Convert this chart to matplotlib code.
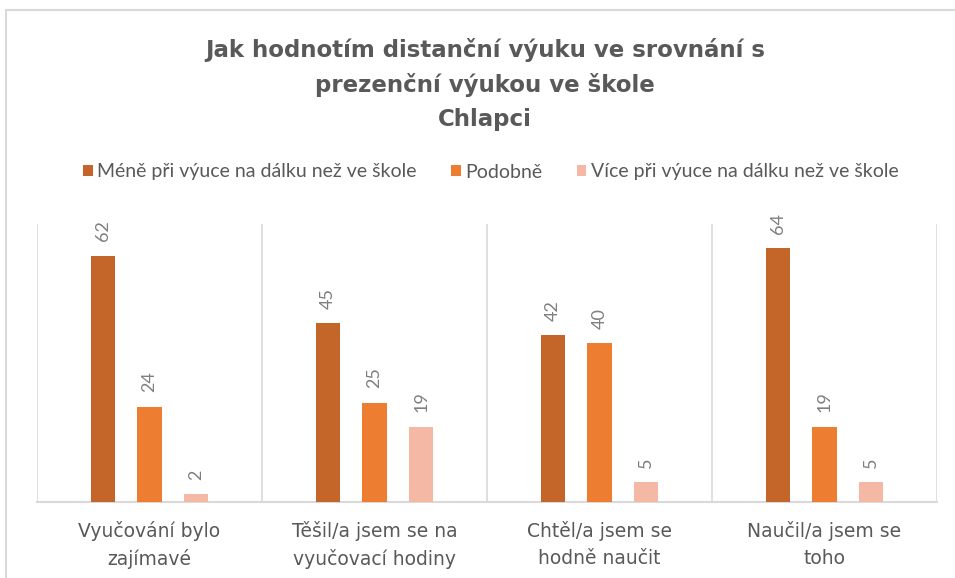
import numpy as np
import matplotlib.pyplot as plt
from matplotlib.patches import Rectangle

plt.rcParams['font.family'] = ['Lato', 'DejaVu Sans']

# data
categories = ['Vyučování bylo\nzajímavé', 'Těšil/a jsem se na\nvyučovací hodiny',
              'Chtěl/a jsem se\nhodně naučit', 'Naučil/a jsem se\ntoho']
series_names = ['Méně při výuce na dálku než ve škole', 'Podobně',
                'Více při výuce na dálku než ve škole']
mene = [62, 45, 42, 64]
podobne = [24, 25, 40, 19]
vice = [2, 19, 5, 5]
colors = ['#C4652A', '#ED7D31', '#F4B8A4']

fig = plt.figure(figsize=(9.55, 5.78), dpi=100)

# rámeček grafu
fig.patches.append(Rectangle((6 / 955, -0.1), 1.1, (578 - 10) / 578 + 0.1,
                             transform=fig.transFigure, fill=False,
                             edgecolor='#d9d9d9', linewidth=1.5))

ax = fig.add_axes([37 / 955, 76 / 578, 900 / 955, 278 / 578])

x = np.arange(len(categories))
w = 0.107
step = 0.207
for i, (vals, name) in enumerate(zip([mene, podobne, vice], series_names)):
    bars = ax.bar(x + (i - 1) * step, vals, w, color=colors[i], label=name, zorder=3)
    for bar in bars:
        ax.text(bar.get_x() + bar.get_width() / 2, bar.get_height() + 3.6,
                int(bar.get_height()), rotation=90, ha='center', va='bottom',
                fontsize=13, color='#7f7f7f')

ax.set_xlim(-0.5, 3.5)
ax.set_ylim(0, 70)
ax.set_yticks([])
ax.set_xticks(x)
ax.set_xticklabels(categories, fontsize=13.5, color='#595959', linespacing=1.5,
                   family=['DejaVu Sans'])
ax.tick_params(axis='x', length=0, pad=14)
for b in np.arange(-0.5, 4, 1):
    ax.axvline(b, color='#d9d9d9', linewidth=1.2, zorder=1)
for s in ['top', 'left', 'right']:
    ax.spines[s].set_visible(False)
ax.spines['bottom'].set_color('#d9d9d9')
ax.spines['bottom'].set_linewidth(1.5)

# titulek
fig.text(485 / 955, 1 - 38 / 578,
         'Jak hodnotím distanční výuku ve srovnání s\nprezenční výukou ve škole\nChlapci',
         ha='center', va='top', fontsize=16.5, fontweight='bold', color='#595959',
         linespacing=1.6, family=['DejaVu Sans'])

# legenda
fig.legend(loc='center', bbox_to_anchor=(491 / 955, 1 - 172 / 578), ncol=3, frameon=False,
           fontsize=14, labelcolor='#595959', handlelength=0.5, handleheight=0.5,
           handletextpad=0.25, columnspacing=1.75)

plt.savefig('out.png', dpi=100)
